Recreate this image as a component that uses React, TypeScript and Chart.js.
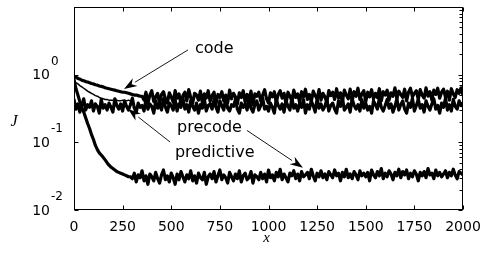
import React, { useEffect, useRef } from "react";
import { Chart, registerables } from "chart.js";

Chart.register(...registerables);

// iteration grid (x categories), step 10 from 0 to 2000
const iterations: number[] = Array.from({ length: 201 }, (_, i) => i * 10);

const xTickValues = [0, 250, 500, 750, 1000, 1250, 1500, 1750, 2000];
const yTickValues = [0.01, 0.1, 1, 10];
const yTickExponents = ["-2", "-1", "0"];

// "code" curve: slow decay then noisy plateau
const codeValues = [
  0.95, 0.92, 0.88, 0.86, 0.83, 0.81, 0.79, 0.78, 0.76, 0.74,
  0.73, 0.71, 0.7, 0.68, 0.67, 0.66, 0.64, 0.63, 0.62, 0.61,
  0.6, 0.59, 0.58, 0.57, 0.56, 0.55, 0.55, 0.54, 0.53, 0.52,
  0.51, 0.5, 0.5, 0.49, 0.48, 0.48,
  0.42, 0.55, 0.38, 0.5, 0.58, 0.4, 0.47, 0.53, 0.37, 0.51,
  0.56, 0.44, 0.38, 0.54, 0.47, 0.39, 0.58, 0.45, 0.52, 0.36,
  0.49, 0.55, 0.41, 0.6, 0.46, 0.38, 0.53, 0.5, 0.42, 0.57,
  0.38, 0.52, 0.45, 0.58, 0.4, 0.49, 0.55, 0.37, 0.51, 0.46,
  0.56, 0.41, 0.5, 0.38, 0.59, 0.44, 0.53, 0.47, 0.37, 0.54,
  0.46, 0.58, 0.39, 0.51, 0.42, 0.57, 0.36, 0.52, 0.48, 0.55,
  0.41, 0.5, 0.6, 0.44, 0.38, 0.54, 0.47, 0.56, 0.39, 0.51,
  0.58, 0.45, 0.53, 0.37, 0.55, 0.48, 0.41, 0.59, 0.46, 0.52,
  0.39, 0.56, 0.47, 0.61, 0.43, 0.51, 0.4, 0.57, 0.49, 0.44,
  0.6, 0.42, 0.53, 0.47, 0.39, 0.58, 0.49, 0.55, 0.43, 0.62,
  0.45, 0.54, 0.4, 0.59, 0.5, 0.44, 0.61, 0.41, 0.56, 0.48,
  0.63, 0.43, 0.52, 0.58, 0.4, 0.55, 0.47, 0.6, 0.44, 0.53,
  0.46, 0.62, 0.41, 0.56, 0.5, 0.59, 0.42, 0.54, 0.48, 0.64,
  0.44, 0.57, 0.51, 0.46, 0.61, 0.41, 0.55, 0.63, 0.47, 0.53,
  0.58, 0.43, 0.6, 0.5, 0.45, 0.64, 0.48, 0.56, 0.42, 0.59,
  0.51, 0.63, 0.45, 0.55, 0.61, 0.46, 0.57, 0.42, 0.62, 0.52,
  0.46, 0.6, 0.53, 0.64, 0.5,
];

// "predictive" curve: flat noisy plateau from the start
const predictiveValues = [
  0.43, 0.31, 0.37, 0.28, 0.35, 0.44, 0.3, 0.36, 0.33, 0.41,
  0.29, 0.37, 0.34, 0.27, 0.43, 0.32, 0.36, 0.3, 0.38, 0.33,
  0.28, 0.44, 0.35, 0.31, 0.37, 0.29, 0.41, 0.34, 0.3, 0.36,
  0.45, 0.32, 0.28, 0.38, 0.33, 0.35, 0.29, 0.43, 0.31, 0.37,
  0.34, 0.27, 0.41, 0.32, 0.36, 0.3, 0.44, 0.33, 0.28, 0.38,
  0.35, 0.3, 0.43, 0.29, 0.37, 0.33, 0.45, 0.31, 0.36, 0.28,
  0.41, 0.34, 0.3, 0.38, 0.27, 0.36, 0.32, 0.44, 0.29, 0.35,
  0.37, 0.31, 0.43, 0.33, 0.28, 0.41, 0.35, 0.3, 0.45, 0.32,
  0.29, 0.36, 0.34, 0.43, 0.31, 0.27, 0.38, 0.33, 0.37, 0.3,
  0.44, 0.32, 0.28, 0.36, 0.41, 0.3, 0.35, 0.45, 0.31, 0.34,
  0.29, 0.38, 0.33, 0.27, 0.43, 0.35, 0.31, 0.37, 0.28, 0.41,
  0.34, 0.3, 0.45, 0.32, 0.36, 0.29, 0.38, 0.33, 0.43, 0.27,
  0.36, 0.31, 0.41, 0.35, 0.28, 0.44, 0.32, 0.37, 0.3, 0.34,
  0.43, 0.29, 0.35, 0.38, 0.31, 0.27, 0.41, 0.34, 0.45, 0.3,
  0.33, 0.37, 0.28, 0.44, 0.35, 0.31, 0.36, 0.29, 0.43, 0.32,
  0.38, 0.3, 0.34, 0.27, 0.41, 0.36, 0.31, 0.45, 0.33, 0.29,
  0.35, 0.43, 0.32, 0.37, 0.28, 0.34, 0.44, 0.3, 0.36, 0.41,
  0.31, 0.27, 0.38, 0.33, 0.45, 0.29, 0.35, 0.43, 0.32, 0.36,
  0.28, 0.41, 0.34, 0.3, 0.37, 0.44, 0.31, 0.35, 0.27, 0.38,
  0.33, 0.45, 0.3, 0.36, 0.29, 0.43, 0.34, 0.31, 0.41, 0.35,
  0.37,
];

// short transient curve that merges into the plateau (0..290)
const transientValues = [
  0.8, 0.76, 0.73, 0.69, 0.66, 0.63, 0.6, 0.57, 0.55, 0.53,
  0.51, 0.49, 0.48, 0.46, 0.45, 0.44, 0.43, 0.43, 0.42, 0.42,
  0.42, 0.41, 0.42, 0.41, 0.41, 0.42, 0.41, 0.41, 0.42, 0.41,
];

// "precode" curve: fast decay then low noisy plateau
const precodeValues = [
  0.85, 0.62, 0.5, 0.4, 0.33, 0.28, 0.23, 0.19, 0.16, 0.13,
  0.11, 0.09, 0.078, 0.07, 0.065, 0.06, 0.055, 0.05, 0.046, 0.043,
  0.041, 0.039, 0.037, 0.036, 0.035, 0.034, 0.033, 0.032, 0.031, 0.031,
  0.029, 0.035, 0.026, 0.033, 0.03, 0.038, 0.027, 0.032, 0.024, 0.034,
  0.031, 0.027, 0.036, 0.029, 0.025, 0.033, 0.039, 0.028, 0.032, 0.026,
  0.035, 0.03, 0.024, 0.034, 0.028, 0.037, 0.031, 0.026, 0.033, 0.029,
  0.038, 0.027, 0.032, 0.025, 0.035, 0.03, 0.028, 0.036, 0.024, 0.031,
  0.034, 0.029, 0.037, 0.026, 0.032, 0.039, 0.028, 0.033, 0.03, 0.025,
  0.036, 0.031, 0.027, 0.034, 0.029, 0.038, 0.026, 0.032, 0.035, 0.028,
  0.03, 0.037, 0.025, 0.033, 0.031, 0.028, 0.036, 0.029, 0.034, 0.026,
  0.039, 0.03, 0.033, 0.027, 0.036, 0.031, 0.04, 0.028, 0.034, 0.03,
  0.026, 0.035, 0.032, 0.038, 0.029, 0.034, 0.027, 0.037, 0.031, 0.033,
  0.036, 0.029, 0.04, 0.032, 0.027, 0.035, 0.031, 0.038, 0.03, 0.034,
  0.028, 0.037, 0.033, 0.03, 0.039, 0.032, 0.035, 0.027, 0.036, 0.031,
  0.04, 0.03, 0.034, 0.029, 0.037, 0.033, 0.028, 0.038, 0.032, 0.035,
  0.031, 0.036, 0.027, 0.039, 0.033, 0.03, 0.037, 0.032, 0.041, 0.029,
  0.035, 0.031, 0.038, 0.034, 0.028, 0.036, 0.032, 0.04, 0.03, 0.037,
  0.033, 0.039, 0.029, 0.035, 0.031, 0.038, 0.034, 0.027, 0.036, 0.032,
  0.037, 0.03, 0.041, 0.033, 0.035, 0.029, 0.039, 0.032, 0.036, 0.031,
  0.034, 0.038, 0.03, 0.036, 0.032, 0.04, 0.033, 0.029, 0.037, 0.035,
  0.033,
];

// annotations in data coordinates
const annotationTexts = [
  { text: "code", x: 622, y: 2.09 },
  { text: "precode", x: 530, y: 0.142 },
  { text: "predictive", x: 519, y: 0.0608 },
];
const annotationArrows = [
  { fromX: 586, fromY: 2.32, toX: 257, toY: 0.615 },
  { fromX: 494, fromY: 0.101, toX: 278, toY: 0.311 },
  { fromX: 889, fromY: 0.15, toX: 1177, toY: 0.042 },
];

const decorPlugin = {
  id: "decor",
  afterDraw(chart: any) {
    const { ctx, chartArea: a, scales } = chart;
    const xs = scales.x;
    const ys = scales.y;
    ctx.save();
    ctx.strokeStyle = "#000";
    ctx.fillStyle = "#000";
    ctx.lineWidth = 1;
    const L = Math.round(a.left) + 0.5;
    const R = Math.round(a.right) - 0.5;
    const T = Math.round(a.top) + 0.5;
    const B = Math.round(a.bottom) - 0.5;
    ctx.strokeRect(L, T, R - L, B - T);

    // x ticks top and bottom, inward
    ctx.beginPath();
    for (const v of xTickValues) {
      const px = Math.round(xs.getPixelForValue(v)) + 0.5;
      ctx.moveTo(px, B);
      ctx.lineTo(px, B - 4);
      ctx.moveTo(px, T);
      ctx.lineTo(px, T + 4);
    }
    // y major ticks
    for (const v of yTickValues) {
      const py = Math.round(ys.getPixelForValue(v)) + 0.5;
      ctx.moveTo(L, py);
      ctx.lineTo(L + 4, py);
      ctx.moveTo(R, py);
      ctx.lineTo(R - 4, py);
    }
    // y minor ticks on right side
    for (let d = 0; d < 3; d++) {
      for (let k = 2; k <= 9; k++) {
        const v = k * yTickValues[d];
        const py = Math.round(ys.getPixelForValue(v)) + 0.5;
        ctx.moveTo(R, py);
        ctx.lineTo(R - 3, py);
      }
    }
    ctx.stroke();

    // y tick labels 10^k
    for (let i = 0; i < 3; i++) {
      const py = ys.getPixelForValue(yTickValues[i]);
      ctx.font = '14px "DejaVu Sans"';
      ctx.textAlign = "right";
      ctx.textBaseline = "middle";
      ctx.fillText("10", 50, py + 1);
      ctx.font = '12px "DejaVu Sans"';
      ctx.textAlign = "left";
      ctx.fillText(yTickExponents[i], 51, py - 13);
    }

    // axis titles
    ctx.font = 'italic 16px "Liberation Serif"';
    ctx.textAlign = "center";
    ctx.textBaseline = "middle";
    ctx.fillText("J", 14, 122);
    ctx.font = 'italic 15px "Liberation Serif"';
    ctx.fillText("x", (a.left + a.right) / 2 - 2, 238);

    // annotation texts
    ctx.font = '16px "DejaVu Sans"';
    ctx.textAlign = "left";
    ctx.textBaseline = "alphabetic";
    for (const t of annotationTexts) {
      ctx.fillText(t.text, xs.getPixelForValue(t.x), ys.getPixelForValue(t.y));
    }

    // arrows
    for (const ar of annotationArrows) {
      const x1 = xs.getPixelForValue(ar.fromX);
      const y1 = ys.getPixelForValue(ar.fromY);
      const x2 = xs.getPixelForValue(ar.toX);
      const y2 = ys.getPixelForValue(ar.toY);
      const ang = Math.atan2(y2 - y1, x2 - x1);
      const hl = 13;
      const hw = 4.5;
      const bx = x2 - hl * Math.cos(ang);
      const by = y2 - hl * Math.sin(ang);
      ctx.lineWidth = 0.9;
      ctx.beginPath();
      ctx.moveTo(x1, y1);
      ctx.lineTo(bx, by);
      ctx.stroke();
      ctx.beginPath();
      ctx.moveTo(x2, y2);
      ctx.lineTo(bx + hw * Math.sin(ang), by - hw * Math.cos(ang));
      ctx.lineTo(x2 - (hl - 4) * Math.cos(ang), y2 - (hl - 4) * Math.sin(ang));
      ctx.lineTo(bx - hw * Math.sin(ang), by + hw * Math.cos(ang));
      ctx.closePath();
      ctx.fill();
    }
    ctx.restore();
  },
};

export default function App() {
  const ref = useRef<HTMLCanvasElement | null>(null);
  useEffect(() => {
    if (!ref.current) return;
    const lineStyle = {
      borderColor: "#000",
      borderWidth: 3.2,
      borderJoinStyle: "round",
      borderCapStyle: "round",
      pointRadius: 0,
      fill: false,
      tension: 0,
    };
    const chart = new Chart(ref.current, {
      type: "line",
      data: {
        labels: iterations,
        datasets: [
          { label: "code", data: codeValues, ...lineStyle },
          { label: "predictive", data: predictiveValues, ...lineStyle },
          { label: "transient", data: transientValues, ...lineStyle, borderWidth: 1.5 },
          { label: "precode", data: precodeValues, ...lineStyle },
        ],
      },
      options: {
        animation: false,
        responsive: false,
        devicePixelRatio: 1,
        layout: { padding: { left: 0, right: 17, top: 7, bottom: 0 } },
        plugins: { legend: { display: false }, tooltip: { enabled: false } },
        scales: {
          x: {
            type: "linear",
            min: 0,
            max: 2000,
            afterBuildTicks: (s: any) => {
              s.ticks = xTickValues.map((v) => ({ value: v }));
            },
            ticks: {
              font: { family: "DejaVu Sans", size: 14 },
              color: "#000",
              padding: 9,
              maxRotation: 0,
              autoSkip: false,
              callback: (v: any) => String(v),
            },
            grid: { display: false, drawTicks: false },
            border: { display: false },
            afterFit: (s: any) => {
              s.height = 43;
              s.paddingLeft = 0;
              s.paddingRight = 0;
            },
          },
          y: {
            type: "logarithmic",
            min: 0.01,
            max: 10,
            ticks: { display: false },
            grid: { display: false, drawTicks: false },
            border: { display: false },
            afterFit: (s: any) => {
              s.width = 74;
              s.paddingTop = 0;
              s.paddingBottom = 0;
            },
          },
        },
      },
      plugins: [decorPlugin],
    } as any);
    return () => chart.destroy();
  }, []);
  return (
    <canvas
      ref={ref}
      width={480}
      height={253}
      style={{ position: "fixed", left: 0, top: 0, width: 480, height: 253 }}
    />
  );
}
